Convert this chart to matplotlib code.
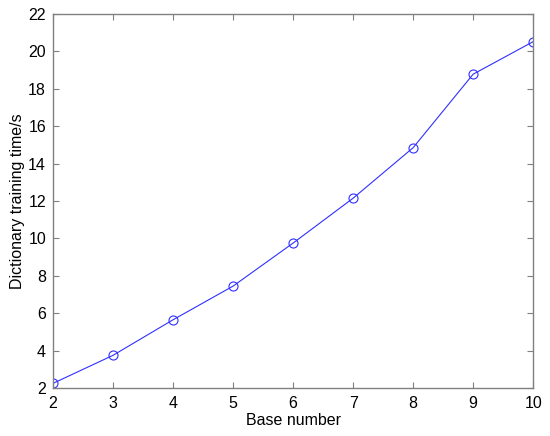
import matplotlib
matplotlib.use('Agg')
import matplotlib.pyplot as plt

plt.rcParams['font.family'] = ['Liberation Sans', 'DejaVu Sans']

# Data
base_number = [2, 3, 4, 5, 6, 7, 8, 9, 10]
train_time = [2.25, 3.75, 5.65, 7.45, 9.75, 12.15, 14.85, 18.78, 20.52]

fig = plt.figure(figsize=(5.5, 4.36), dpi=100)
ax = fig.add_axes([0.0964, 0.110, 0.873, 0.858])

ax.plot(base_number, train_time, color='#3030ff', linewidth=0.8,
        marker='o', markersize=6.5, markerfacecolor='none',
        markeredgecolor='#3030ff', markeredgewidth=0.8)

ax.set_xlim(2, 10)
ax.set_ylim(2, 22)
ax.set_xticks(range(2, 11))
ax.set_yticks(range(2, 23, 2))

for s in ax.spines.values():
    s.set_color('#808080')
    s.set_linewidth(1.0)
ax.tick_params(direction='in', top=True, right=True, length=4,
               color='#808080', labelsize=11.5, labelcolor='black')
ax.tick_params(axis='x', pad=6)
ax.tick_params(axis='y', pad=5)

ax.set_xlabel('Base number', fontsize=11.5, labelpad=1)
ax.set_ylabel('Dictionary training time/s', fontsize=11.5, labelpad=2)

fig.savefig('out.png', dpi=100)
